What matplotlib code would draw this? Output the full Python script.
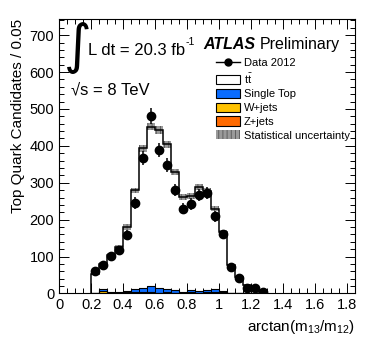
import matplotlib
matplotlib.use("Agg")
import matplotlib.pyplot as plt
import numpy as np
from matplotlib.lines import Line2D
from matplotlib.patches import Patch
from matplotlib.ticker import MultipleLocator

plt.rcParams["font.family"] = ["Liberation Sans", "DejaVu Sans"]
plt.rcParams["mathtext.fontset"] = "custom"
plt.rcParams["mathtext.rm"] = "Liberation Sans"
plt.rcParams["mathtext.it"] = "Liberation Sans:italic"
plt.rcParams["hatch.linewidth"] = 0.6

# bins of arctan(m13/m12), width 0.05
edges = np.round(np.arange(0.20, 1.3001, 0.05), 2)
centers = edges[:-1] + 0.025

data = np.array([60, 78, 101, 119, 159, 245, 367, 482, 389, 349, 281, 230,
                 243, 268, 272, 209, 160, 72, 41, 16, 16, 4])
total_mc = np.array([54, 81, 104, 126, 180, 279, 393, 452, 443, 404, 330, 261,
                     263, 288, 277, 230, 166, 76, 45, 22, 13, 5])
single_top = np.array([0, 5, 4, 3, 3, 9, 12, 15, 13, 10, 7, 4,
                       6, 5, 6, 9, 2, 0, 0, 0, 0, 0])
wjets = np.array([0, 6, 1, 2, 4, 2, 4, 4, 2, 3, 2, 1,
                  3, 2, 3, 4, 4, 0, 0, 0, 0, 0])
zjets = np.array([0, 0, 0, 0, 0, 2, 0, 0, 0, 0, 0, 0,
                  0, 0, 0, 0, 0, 0, 0, 0, 0, 0])
mc_stat = np.array([4, 5, 5, 6, 7, 8, 9, 10, 10, 9, 8, 8,
                    8, 8, 8, 7, 6, 4, 3, 2, 2, 1])

c_st = "#0a6cff"
c_w = "#ffc200"
c_z = "#ff6a00"
c_band = "#9a9a9a"

fig = plt.figure(figsize=(3.74, 3.51), dpi=100)
ax = fig.add_axes([0.158, 0.164, 0.791, 0.781])

# stacked backgrounds
b1 = zjets
b2 = b1 + wjets
b3 = b2 + single_top
ax.stairs(b1, edges, baseline=0, fill=True, color=c_z, lw=0)
ax.stairs(b2, edges, baseline=b1, fill=True, color=c_w, lw=0)
ax.stairs(b3, edges, baseline=b2, fill=True, color=c_st, lw=0)
for top in (b1, b2, b3):
    ax.stairs(top, edges, color="black", lw=0.8)

# stat uncertainty band
ax.stairs(total_mc + mc_stat, edges, baseline=total_mc - mc_stat, fill=True,
          facecolor=c_band, edgecolor="#555555", hatch="||||", lw=0)
ax.stairs(total_mc, edges, baseline=0, color="black", lw=1.1)

# data
ax.errorbar(centers, data, yerr=np.sqrt(data), fmt="o", color="black",
            ms=6, elinewidth=1.1, capsize=0, zorder=5)

ax.set_xlim(0, 1.85)
ax.set_ylim(0, 743)
ax.xaxis.set_major_locator(MultipleLocator(0.2))
ax.xaxis.set_minor_locator(MultipleLocator(0.05))
ax.yaxis.set_major_locator(MultipleLocator(100))
ax.yaxis.set_minor_locator(MultipleLocator(20))
ax.tick_params(which="both", direction="in", top=True, right=True,
               labelsize=10.5, width=0.7)
ax.tick_params(which="major", length=7)
ax.tick_params(which="minor", length=3.5)
ax.set_xticks(np.arange(0, 1.81, 0.2))
ax.set_xticklabels(["0", "0.2", "0.4", "0.6", "0.8", "1",
                    "1.2", "1.4", "1.6", "1.8"])
for s in ax.spines.values():
    s.set_linewidth(0.8)

ax.set_xlabel(r"arctan(m$_{13}$/m$_{12}$)", fontsize=11, loc="right",
              labelpad=4)
ax.set_ylabel("Top Quark Candidates / 0.05", fontsize=11, loc="top",
              labelpad=3)

# annotations
ax.text(0.012, 0.84, r"$\int$", transform=ax.transAxes, fontsize=27,
        va="baseline", math_fontfamily="dejavusans")
ax.text(0.097, 0.87, "L dt = 20.3 fb", transform=ax.transAxes,
        fontsize=12, va="baseline")
ax.text(0.427, 0.905, "-1", transform=ax.transAxes, fontsize=7.5,
        va="baseline")
ax.text(0.04, 0.725, "\u221as = 8 TeV",
        transform=ax.transAxes, fontsize=12, va="baseline")
ax.text(0.487, 0.89, "ATLAS", transform=ax.transAxes, fontsize=11.5,
        fontweight="bold", fontstyle="italic", va="baseline")
ax.text(0.678, 0.89, "Preliminary", transform=ax.transAxes, fontsize=11.5,
        va="baseline")

handles = [
    Line2D([], [], color="black", marker="o", ms=5, lw=1),
    Patch(facecolor="white", edgecolor="black", lw=0.8),
    Patch(facecolor=c_st, edgecolor="black", lw=0.8),
    Patch(facecolor=c_w, edgecolor="black", lw=0.8),
    Patch(facecolor=c_z, edgecolor="black", lw=0.8),
    Patch(facecolor=c_band, edgecolor="#555555", hatch="||||", lw=0),
]
labels = ["Data 2012", r"t$\bar{\mathrm{t}}$", "Single Top", "W+jets",
          "Z+jets", "Statistical uncertainty"]
ax.legend(handles, labels, loc="upper left", bbox_to_anchor=(0.53, 0.86),
          frameon=False, fontsize=8, handlelength=2.2, handleheight=0.9,
          handletextpad=0.3, labelspacing=0.3, borderaxespad=0,
          borderpad=0)

fig.savefig("out.png", dpi=100)
